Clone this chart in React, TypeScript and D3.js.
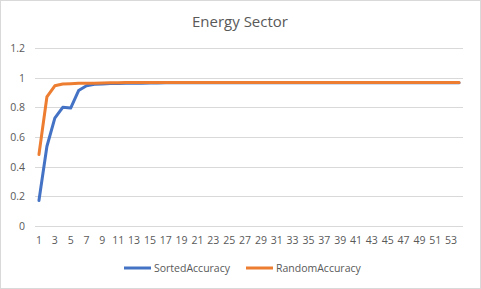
import React from "react";
import * as d3 from "d3";

const categories: number[] = Array.from({ length: 54 }, (_, i) => i + 1);
const sortedAccuracy: number[] = [
  0.172, 0.536, 0.727, 0.8, 0.795, 0.913, 0.945, 0.955, 0.958, 0.96,
  0.961, 0.962, 0.962, 0.963, 0.964, 0.964, 0.965, 0.965, 0.965, 0.965,
  0.965, 0.965, 0.965, 0.965, 0.965, 0.965, 0.965, 0.965, 0.965, 0.965,
  0.965, 0.965, 0.965, 0.965, 0.965, 0.965, 0.965, 0.965, 0.965, 0.965,
  0.965, 0.965, 0.965, 0.965, 0.965, 0.965, 0.965, 0.965, 0.965, 0.965,
  0.965, 0.965, 0.965, 0.965,
];
const randomAccuracy: number[] = [
  0.482, 0.87, 0.945, 0.957, 0.959, 0.962, 0.963, 0.963, 0.964, 0.965,
  0.966, 0.967, 0.967, 0.968, 0.968, 0.968, 0.968, 0.968, 0.968, 0.968,
  0.968, 0.968, 0.968, 0.968, 0.968, 0.968, 0.968, 0.968, 0.968, 0.968,
  0.968, 0.968, 0.968, 0.968, 0.968, 0.968, 0.968, 0.968, 0.968, 0.968,
  0.968, 0.968, 0.968, 0.968, 0.968, 0.968, 0.968, 0.968, 0.968, 0.968,
  0.968, 0.968, 0.968, 0.968,
];
const yTicks: number[] = [0, 0.2, 0.4, 0.6, 0.8, 1, 1.2];
const seriesNames: string[] = ["SortedAccuracy", "RandomAccuracy"];
const title = "Energy Sector";

const W = 481;
const H = 289;
const FONT = "'Open Sans', 'Liberation Sans', sans-serif";
const TXT = "#595959";

export default function App() {
  const x = d3
    .scaleBand<number>()
    .domain(categories)
    .range([35, 463]);
  const y = d3.scaleLinear().domain([0, 1.2]).range([226, 48]);
  const cx = (c: number) => (x(c) ?? 0) + x.bandwidth() / 2;
  const line = d3
    .line<number>()
    .x((_, i) => cx(categories[i]))
    .y((d) => y(d));
  const colors = ["#4472C4", "#ED7D31"];
  const series = [sortedAccuracy, randomAccuracy];
  const legendX = [124, 246];

  return (
    <div style={{ position: "fixed", left: 0, top: 0 }}>
      <svg width={W} height={H} style={{ display: "block" }}>
        <rect x={0.5} y={0.5} width={W - 1} height={H - 1} fill="#fff" stroke="#d9d9d9" />
        <text x={240} y={27} textAnchor="middle" fontFamily={FONT} fontSize={15} fill={TXT}>
          {title}
        </text>
        {yTicks.map((t) => (
          <g key={t}>
            <line x1={35} x2={463} y1={Math.round(y(t)) + 0.5} y2={Math.round(y(t)) + 0.5} stroke="#d9d9d9" strokeWidth={1} />
            <text x={25} y={y(t) + 4} textAnchor="end" fontFamily={FONT} fontSize={10.5} fill={TXT}>
              {String(t)}
            </text>
          </g>
        ))}
        {categories
          .filter((c) => c % 2 === 1)
          .map((c) => (
            <text key={c} x={cx(c)} y={244} textAnchor="middle" fontFamily={FONT} fontSize={10.5} fill={TXT}>
              {c}
            </text>
          ))}
        {series.map((s, i) => (
          <path key={i} d={line(s) ?? ""} fill="none" stroke={colors[i]} strokeWidth={3} strokeLinejoin="round" strokeLinecap="round" />
        ))}
        {seriesNames.map((n, i) => (
          <g key={n}>
            <line x1={legendX[i]} x2={legendX[i] + 27} y1={268} y2={268} stroke={colors[i]} strokeWidth={3} />
            <text x={legendX[i] + 30} y={272} fontFamily={FONT} fontSize={10.5} fill={TXT}>
              {n}
            </text>
          </g>
        ))}
      </svg>
    </div>
  );
}
